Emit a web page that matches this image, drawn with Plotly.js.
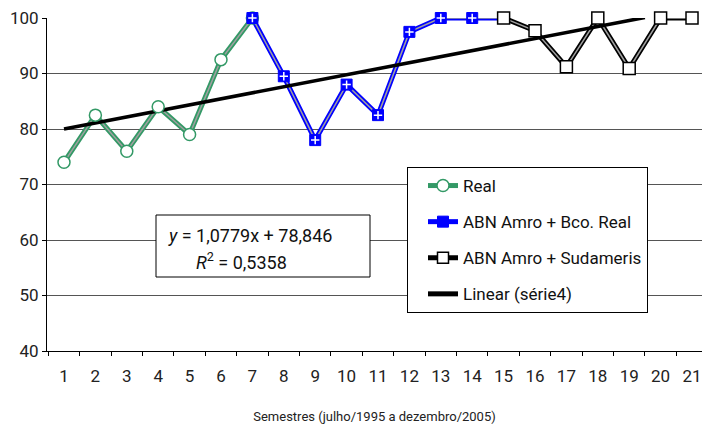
<!DOCTYPE html>
<html>
<head>
<meta charset="utf-8">
<script src="https://cdn.plot.ly/plotly-3.0.1.min.js"></script>
<style>
  html, body { margin: 0; padding: 0; background: #fff; }
  #chart { width: 702px; height: 428px; }
</style>
</head>
<body>
<div id="chart"></div>
<script>
// ---- data ----
const categories = [1,2,3,4,5,6,7,8,9,10,11,12,13,14,15,16,17,18,19,20,21];
const tickLabels = ["1","2","3","4","5","6","7","8","9","10","11","12","13","14","15","16","17","18","19","20","21"];

const realX = [1,2,3,4,5,6,7];
const realY = [74, 82.5, 76, 84, 79, 92.5, 100];

const abnRealX = [7,8,9,10,11,12,13,14,15];
const abnRealY = [100, 89.5, 78, 88, 82.5, 97.5, 100, 100, 100];

const sudamerisX = [15,16,17,18,19,20,21];
const sudamerisY = [100, 97.7, 91.2, 100, 90.9, 100, 100];

const trendX = [1, 19.5];
const trendY = [80, 100.1];

const seriesNames = ["Real", "ABN Amro + Bco. Real", "ABN Amro + Sudameris", "Linear (série4)"];
const equationText = "<i>y</i> = 1,0779x + 78,846";
const r2Text = "<i>R</i><sup>2</sup> = 0,5358";
const xTitle = "Semestres (julho/1995 a dezembro/2005)";

// ---- styles ----
const FONT = 'Roboto, "Liberation Sans", sans-serif';
const GREEN = '#339966';
const BLUE = '#0000ff';
const BLACK = '#000000';
const INNER = '#a0a0a0';

const traces = [];
function lineTrace(x, y, color, w) {
  return {x: x, y: y, mode: 'lines', line: {color: color, width: w}, showlegend: false, hoverinfo: 'skip', cliponaxis: false};
}
// thick coloured lines
traces.push(lineTrace(realX, realY, GREEN, 5));
traces.push(lineTrace(abnRealX, abnRealY, BLUE, 5));
traces.push(lineTrace(sudamerisX, sudamerisY, BLACK, 5));
// thin grey centres
traces.push(lineTrace(realX, realY, INNER, 1.5));
traces.push(lineTrace(abnRealX, abnRealY, INNER, 1.5));
traces.push(lineTrace(sudamerisX, sudamerisY, INNER, 1.5));
// trend
traces.push(lineTrace(trendX, trendY, BLACK, 3.5));
// markers
traces.push({x: realX, y: realY, mode: 'markers', showlegend: false, cliponaxis: false,
  marker: {symbol: 'circle', size: 12, color: '#ffffff', line: {color: GREEN, width: 1.5}}});
traces.push({x: abnRealX.slice(0, abnRealX.length - 1), y: abnRealY.slice(0, abnRealY.length - 1), mode: 'markers', showlegend: false, cliponaxis: false,
  marker: {symbol: 'square', size: 11, color: BLUE, line: {color: BLUE, width: 1}}});
traces.push({x: abnRealX.slice(0, abnRealX.length - 1), y: abnRealY.slice(0, abnRealY.length - 1), mode: 'markers', showlegend: false, cliponaxis: false,
  marker: {symbol: 'cross-thin', size: 6, color: '#ffffff', line: {color: '#ffffff', width: 1.5}}});
traces.push({x: sudamerisX, y: sudamerisY, mode: 'markers', showlegend: false, cliponaxis: false,
  marker: {symbol: 'square', size: 12, color: '#ffffff', line: {color: BLACK, width: 1.5}}});

// legend-only entries
traces.push({x: [null], y: [null], name: seriesNames[0], legendgroup: 'a', mode: 'lines+markers',
  line: {color: GREEN, width: 5}, marker: {symbol: 'circle', size: 12, color: '#fff', line: {color: GREEN, width: 1.5}}});
traces.push({x: [null], y: [null], name: seriesNames[1], legendgroup: 'b', mode: 'lines+markers',
  line: {color: BLUE, width: 5}, marker: {symbol: 'square', size: 11, color: BLUE, line: {color: BLUE, width: 1}}});
traces.push({x: [null], y: [null], name: seriesNames[2], legendgroup: 'c', mode: 'lines+markers',
  line: {color: BLACK, width: 5}, marker: {symbol: 'square', size: 11, color: '#fff', line: {color: BLACK, width: 1.5}}});
traces.push({x: [null], y: [null], name: seriesNames[3], legendgroup: 'd', mode: 'lines',
  line: {color: BLACK, width: 5}});

const W = 702, H = 428, L = 47, R = 0, T = 18, B = 77;
const pw = W - L - R, ph = H - T - B;
const px2x = p => (p - L) / pw;
const py2y = p => (H - B - p) / ph;

const layout = {
  width: W, height: H,
  margin: {l: L, r: R, t: T, b: B, pad: 0},
  paper_bgcolor: '#ffffff', plot_bgcolor: '#ffffff',
  font: {family: FONT, size: 17, color: '#222'},
  showlegend: true,
  legend: {
    x: px2x(407), y: py2y(167), xanchor: 'left', yanchor: 'top',
    bgcolor: '#ffffff', bordercolor: '#000', borderwidth: 1,
    font: {family: FONT, size: 17, color: '#111'},
    traceorder: 'grouped', tracegroupgap: 11, indentation: 15,
    entrywidth: 228
  },
  xaxis: {
    range: [0.459, 21.318], tickmode: 'array', tickvals: categories, ticktext: tickLabels,
    showgrid: false, zeroline: false, showline: true, linecolor: '#000', linewidth: 1,
    ticks: '', ticklabelstandoff: 10,
    minor: {ticks: 'outside', tick0: 0.5, dtick: 1, ticklen: 4, tickcolor: '#000', tickwidth: 1, showgrid: false},
    tickfont: {family: FONT, size: 17, color: '#222'},
    title: {text: xTitle, font: {family: FONT, size: 13, color: '#222'}, standoff: 26}
  },
  yaxis: {
    range: [40, 100], dtick: 10, tick0: 40,
    showgrid: true, gridcolor: '#555', gridwidth: 1, zeroline: false,
    showline: true, linecolor: '#000', linewidth: 1,
    ticks: 'outside', ticklen: 4, tickcolor: '#000',
    tickfont: {family: FONT, size: 17, color: '#222'}
  },
  shapes: [{
    type: 'rect', xref: 'paper', yref: 'paper',
    x0: px2x(156), x1: px2x(370), y0: py2y(277), y1: py2y(215),
    line: {color: '#000', width: 1}, fillcolor: '#ffffff', layer: 'above'
  }],
  annotations: [
    {xref: 'paper', yref: 'paper', x: px2x(166), y: py2y(235), xanchor: 'left', yanchor: 'middle',
     text: equationText, showarrow: false, font: {family: FONT, size: 18, color: '#111'}},
    {xref: 'paper', yref: 'paper', x: px2x(194), y: py2y(261), xanchor: 'left', yanchor: 'middle',
     text: r2Text, showarrow: false, font: {family: FONT, size: 18, color: '#111'}}
  ]
};

Plotly.newPlot('chart', traces, layout, {displayModeBar: false, staticPlot: true});
</script>
</body>
</html>
